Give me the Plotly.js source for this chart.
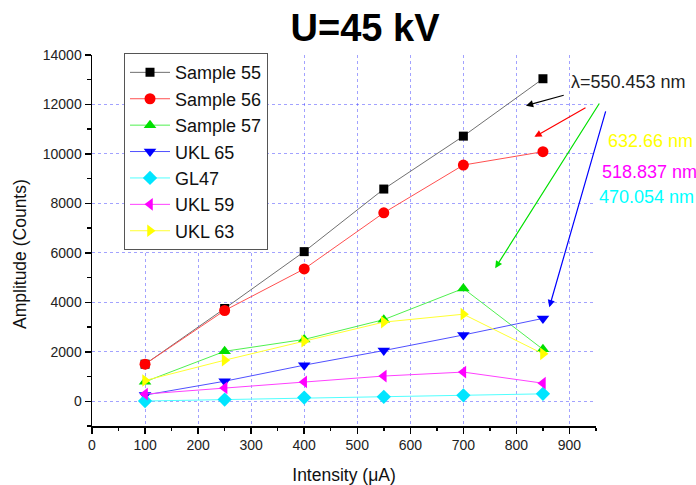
<!DOCTYPE html>
<html>
<head>
<meta charset="utf-8">
<script src="https://cdn.plot.ly/plotly-3.0.1.min.js"></script>
<style>html,body{margin:0;padding:0;background:#fff}#chart{width:696px;height:485px}</style>
</head>
<body>
<div id="chart"></div>
<script>
const intensity = [100, 250, 400, 550, 700, 850];
const sample55 = [1500, 3750, 6050, 8580, 10720, 13040];
const sample56 = [1500, 3670, 5350, 7620, 9550, 10090];
const sample57 = [790, 2020, 2500, 3300, 4560, 2100];
const ukl65 = [250, 810, 1460, 2050, 2680, 3350];
const gl47 = [10, 70, 150, 180, 240, 300];
const ukl59 = [290, 540, 780, 1020, 1180, 730];
const ukl63 = [840, 1660, 2430, 3200, 3520, 1920];

const xTickVals = [0, 100, 200, 300, 400, 500, 600, 700, 800, 900];
const yTickVals = [0, 2000, 4000, 6000, 8000, 10000, 12000, 14000];

const seriesNames = ["Sample 55", "Sample 56", "Sample 57", "UKL 65", "GL47", "UKL 59", "UKL 63"];
const seriesData = [sample55, sample56, sample57, ukl65, gl47, ukl59, ukl63];
const markerColors = ["#000000", "#ff0000", "#00e000", "#0000ff", "#00e5ff", "#ff00ff", "#ffff00"];
const lineColors = ["#707070", "#ff5050", "#50f050", "#5050ff", "#50ffff", "#ff40ff", "#ffff30"];
const symbols = ["square", "circle", "triangle-up", "triangle-down", "diamond", "triangle-left", "triangle-right"];
const sizes = [9, 11, 11, 11, 11, 11, 11];

const traces = seriesNames.map((n, i) => ({
  x: intensity, y: seriesData[i], name: n, type: "scatter", mode: "lines+markers",
  line: {color: lineColors[i], width: 1},
  marker: {color: markerColors[i], symbol: symbols[i], size: sizes[i]},
  cliponaxis: false
}));

const font = "Liberation Sans, Arial, sans-serif";
const gridColor = "rgba(70,70,255,0.5)";

const arrow = (x, y, ax, ay, c) => ({x, y, ax, ay, xref: "x", yref: "y", axref: "x", ayref: "y",
  text: "", showarrow: true, arrowcolor: c, arrowwidth: 1.2, arrowhead: 2, arrowsize: 1.2});
const label = (x, y, t, c) => ({x, y, xref: "paper", yref: "paper", text: t, showarrow: false,
  xanchor: "left", yanchor: "middle", font: {family: font, size: 18, color: c}});

const layout = {
  width: 696, height: 485,
  margin: {l: 92, r: 100, t: 55, b: 59},
  paper_bgcolor: "#fff", plot_bgcolor: "#fff",
  font: {family: font, color: "#222"},
  title: {text: "<b>U=45 kV</b>", font: {family: font, size: 38, color: "#000"},
    x: 0.5245, xanchor: "center", xref: "container", y: 0.942, yanchor: "middle", yref: "container"},
  showlegend: true,
  legend: {x: 0.0635, y: 1.005, xanchor: "left", yanchor: "top", bgcolor: "#fff",
    bordercolor: "#555", borderwidth: 1, font: {family: font, size: 18, color: "#111"},
    tracegroupgap: 0, itemwidth: 40},
  xaxis: {range: [0, 950], tickmode: "array", tickvals: xTickVals, ticktext: xTickVals.map(String),
    ticks: "outside", ticklen: 6, tickwidth: 1.5, tickcolor: "#000",
    showline: true, linecolor: "#000", linewidth: 1.5, zeroline: false,
    showgrid: true, gridcolor: gridColor, griddash: "dot", gridwidth: 1,
    tickfont: {family: font, size: 14, color: "#222"},
    minor: {dtick: 50, tick0: 0, ticks: "outside", ticklen: 3.5, tickcolor: "#000", showgrid: false},
    title: {text: "Intensity (\u03bcA)", font: {family: font, size: 17.5, color: "#111"}, standoff: 16}},
  yaxis: {range: [-1000, 14000], tickmode: "array", tickvals: yTickVals, ticktext: yTickVals.map(String),
    ticks: "outside", ticklen: 6, tickwidth: 1.5, tickcolor: "#000",
    showline: true, linecolor: "#000", linewidth: 1.5, zeroline: false,
    showgrid: true, gridcolor: gridColor, griddash: "dot", gridwidth: 1,
    tickfont: {family: font, size: 14, color: "#222"},
    minor: {dtick: 1000, tick0: 0, ticks: "outside", ticklen: 3.5, tickcolor: "#000", showgrid: false},
    title: {text: ""}},
  annotations: [
    {x: -0.1429, y: 0.4636, xref: "paper", yref: "paper", text: "Amplitude (Counts)", textangle: -90,
      showarrow: false, xanchor: "center", yanchor: "middle", font: {family: font, size: 17.5, color: "#111"}},
    arrow(818, 11950, 892, 12390, "#000"),
    arrow(834, 10690, 933, 11900, "#ff0000"),
    arrow(760, 5380, 958, 12100, "#00e000"),
    arrow(862, 3800, 969, 11780, "#0000ff"),
    label(0.946, 0.928, "\u03bb=550.453 nm", "#222"),
    label(1.0198, 0.769, "632.66 nm", "#ffff00"),
    label(1.0079, 0.6854, "518.837 nm", "#ff00ff"),
    label(1.0014, 0.618, "470.054 nm", "#00ffff")
  ]
};

Plotly.newPlot("chart", traces, layout, {displayModeBar: false, staticPlot: true});
</script>
</body>
</html>
